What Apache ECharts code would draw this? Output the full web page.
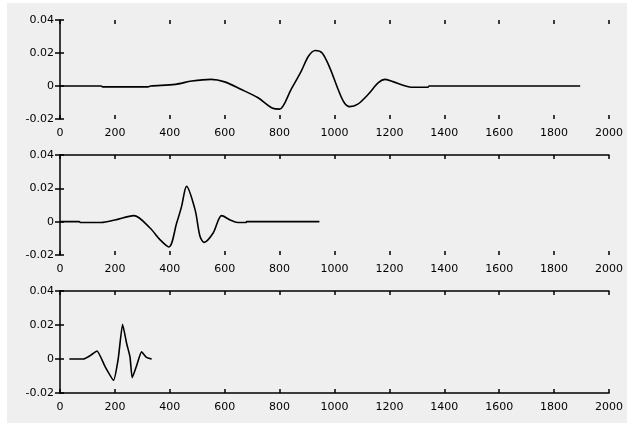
<!DOCTYPE html>
<html>
<head>
<meta charset="utf-8">
<script src="https://cdn.jsdelivr.net/npm/echarts@6/dist/echarts.min.js"></script>
<style>
html,body{margin:0;padding:0;background:#ffffff;}
#bg{position:absolute;left:7px;top:3px;width:620px;height:420px;background:#efefef;}
#chart{position:absolute;left:0;top:0;width:627px;height:427px;}
</style>
</head>
<body>
<div id="bg"></div>
<div id="chart"></div>
<script>
// x tick values / labels
var xTicks = [0, 200, 400, 600, 800, 1000, 1200, 1400, 1600, 1800, 2000];
var yTickLabels = ['-0.02', '0', '0.02', '0.04'];

// Series 1 (top panel)
var s1x = [0,150,155,320,330,420,480,550,600,659,720,775,800,842,879,905,930,955,983,1013,1035,1055,1085,1123,1160,1185,1215,1250,1285,1340,1345,1895];
var s1y = [0,0,-0.0005,-0.0005,0,0.001,0.003,0.004,0.0025,-0.002,-0.007,-0.0135,-0.014,-0.002,0.009,0.018,0.0215,0.02,0.011,-0.002,-0.01,-0.0125,-0.011,-0.005,0.002,0.004,0.0025,0.0005,-0.0008,-0.0008,0,0];

// Series 2 (middle panel)
var s2x = [0,70,75,150,200,269,328,364,397,425,443,461,492,510,525,558,589,620,647,678,680,945];
var s2y = [0,0,-0.0005,-0.0005,0.001,0.0036,-0.0038,-0.0108,-0.0152,-0.0008,0.0092,0.0212,0.0072,-0.0088,-0.0124,-0.0068,0.0036,0.001,-0.0005,-0.0005,0,0];

// Series 3 (bottom panel)
var s3x = [34,85,110,135,164,195,212,228,243,255,263,279,297,315,334];
var s3y = [0,0,0.002,0.0047,-0.0044,-0.0125,0,0.0204,0.009,0.0013,-0.011,-0.004,0.0042,0.001,0];

function pairs(xs, ys){ return xs.map(function(x,i){ return [x, ys[i]]; }); }

var grids = [
  {top:20, height:99},
  {top:155, height:100},
  {top:291, height:102}
];
// which axis lines are visible in each panel [bottom, top]
var lineVis = [[false,false],[false,true],[true,true]];

var font = 'DejaVu Sans, Arial, sans-serif';
var black = '#000000';

var option = {
  animation:false,
  grid: grids.map(function(g){ return {left:60, right:18, top:g.top, height:g.height}; }),
  xAxis: [],
  yAxis: [],
  series: []
};

for (var i=0;i<3;i++){
  option.xAxis.push({
    type:'value', gridIndex:i, min:xTicks[0], max:xTicks[xTicks.length-1], interval:200, position:'bottom',
    axisLine:{show:lineVis[i][0], onZero:false, lineStyle:{color:black, width:1.5}},
    axisTick:{show:true, inside:true, length:4, lineStyle:{color:black, width:1.5}},
    axisLabel:{show:true, color:black, fontSize:11, fontFamily:font, margin:9,
      formatter:function(v){ return String(Math.round(v)); }},
    splitLine:{show:false}
  });
  option.xAxis.push({
    type:'value', gridIndex:i, min:xTicks[0], max:xTicks[xTicks.length-1], interval:200, position:'top',
    axisLine:{show:lineVis[i][1], onZero:false, lineStyle:{color:black, width:1.5}},
    axisTick:{show:true, inside:true, length:4, lineStyle:{color:black, width:1.5}},
    axisLabel:{show:false},
    splitLine:{show:false}
  });
  option.yAxis.push({
    type:'value', gridIndex:i, min:-0.02, max:0.04, interval:0.02, position:'left',
    axisLine:{show:true, onZero:false, lineStyle:{color:black, width:1.5}},
    axisTick:{show:true, inside:true, length:4, lineStyle:{color:black, width:1.5}},
    axisLabel:{show:true, color:black, fontSize:11, fontFamily:font, margin:6,
      formatter:function(v){ var k=Math.round(v/0.02)+1; return yTickLabels[k]; }},
    splitLine:{show:false}
  });
  option.yAxis.push({
    type:'value', gridIndex:i, min:-0.02, max:0.04, interval:0.02, position:'right',
    axisLine:{show:false},
    axisTick:{show:true, inside:true, length:5, lineStyle:{color:black, width:1.5}},
    axisLabel:{show:false},
    splitLine:{show:false}
  });
}

var datas = [pairs(s1x,s1y), pairs(s2x,s2y), pairs(s3x,s3y)];
var smooths = [0.3, 0.3, 0.15];
for (var j=0;j<3;j++){
  option.series.push({
    type:'line', xAxisIndex:j*2, yAxisIndex:j*2, data:datas[j], showSymbol:false, smooth:smooths[j],
    lineStyle:{color:black, width:1.6}, silent:true
  });
}

var chart = echarts.init(document.getElementById('chart'), null, {renderer:'canvas'});
chart.setOption(option);
</script>
</body>
</html>
